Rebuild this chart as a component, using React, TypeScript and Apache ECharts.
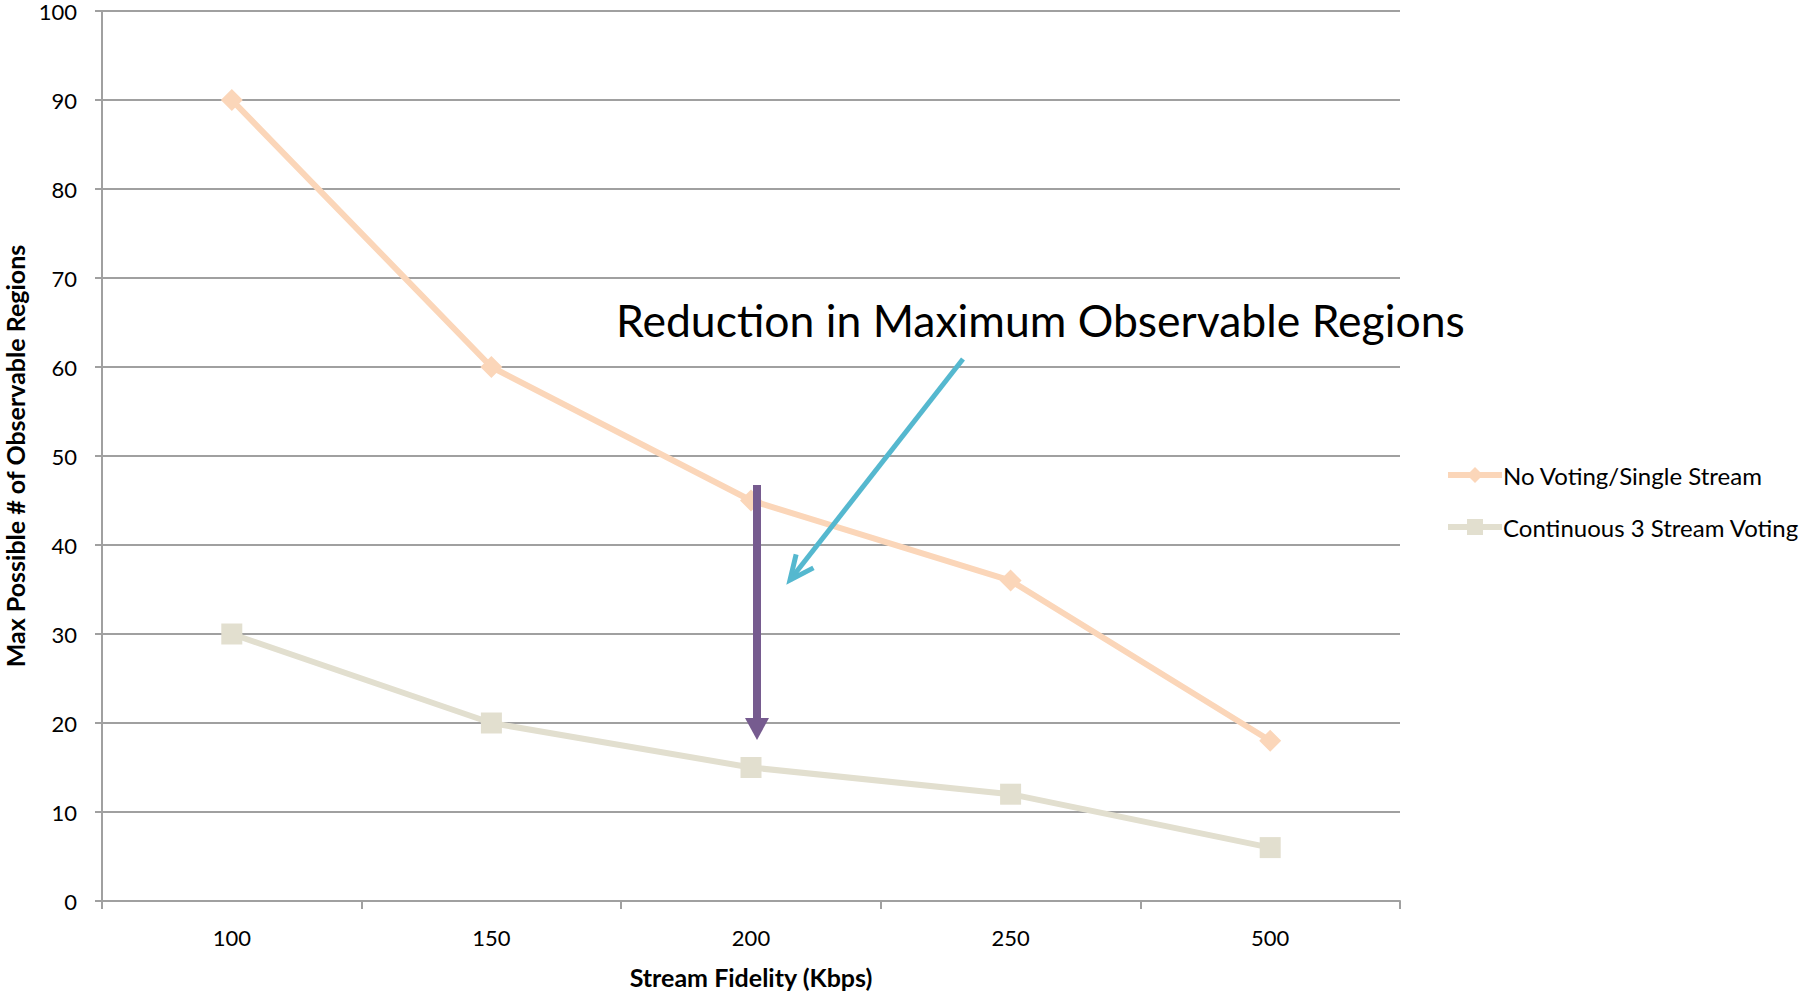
import React, { useEffect, useRef } from "react";
import * as echarts from "echarts";

const categories = ["100", "150", "200", "250", "500"];
const noVoting = [90, 60, 45, 36, 18];
const continuous3 = [30, 20, 15, 12, 6];
const seriesNames = ["No Voting/Single Stream", "Continuous 3 Stream Voting"];
const annotationText = "Reduction in Maximum Observable Regions";
const yAxisName = "Max Possible # of Observable Regions";
const xAxisName = "Stream Fidelity (Kbps)";

const FONT = "Lato, 'Open Sans', sans-serif";

function chevron(x1: number, y1: number, x2: number, y2: number, len: number, half: number) {
  const dx = x2 - x1, dy = y2 - y1;
  const L = Math.hypot(dx, dy);
  const ux = dx / L, uy = dy / L;
  const px = -uy, py = ux;
  const bx = x2 - ux * len, by = y2 - uy * len;
  return [
    [bx + px * half, by + py * half],
    [x2, y2],
    [bx - px * half, by - py * half],
  ];
}

export default function App() {
  const ref = useRef<HTMLDivElement>(null);
  useEffect(() => {
    document.body.style.margin = "0";
    const chart = echarts.init(ref.current!, null, { renderer: "svg" });
    const blueStart = [963, 359];
    const blueEnd = [790, 580];
    const purpleX = 757;
    const purpleTop = 485;
    const purpleTip = 740;
    chart.setOption({
      animation: false,
      backgroundColor: "#ffffff",
      textStyle: { fontFamily: FONT },
      grid: { left: 102, right: 412, top: 11, bottom: 91, containLabel: false, outerBoundsMode: "none" },
      legend: {
        orient: "vertical",
        left: 1440,
        top: 458,
        itemWidth: 54,
        itemHeight: 20,
        itemGap: 28,
        lineStyle: { width: 6 },
        textStyle: { fontFamily: FONT, fontSize: 24, color: "#000", padding: [0, 0, 0, -4] },
        data: seriesNames,
      },
      xAxis: {
        type: "category",
        data: categories,
        boundaryGap: true,
        name: xAxisName,
        nameLocation: "middle",
        nameGap: 63,
        nameTextStyle: { fontFamily: FONT, fontSize: 25, fontWeight: "bold", color: "#000" },
        axisLine: { lineStyle: { color: "#a0a0a0", width: 2 } },
        axisTick: { show: true, length: 8, lineStyle: { color: "#a0a0a0", width: 2 } },
        axisLabel: { fontFamily: FONT, fontSize: 22, color: "#000", margin: 25 },
      },
      yAxis: {
        type: "value",
        min: 0,
        max: 100,
        interval: 10,
        name: yAxisName,
        nameLocation: "middle",
        nameGap: 75,
        nameTextStyle: { fontFamily: FONT, fontSize: 25, fontWeight: "bold", color: "#000" },
        axisLine: { show: true, lineStyle: { color: "#a0a0a0", width: 2 } },
        axisTick: { show: true, length: 7, lineStyle: { color: "#a0a0a0", width: 2 } },
        splitLine: { lineStyle: { color: "#a0a0a0", width: 2 } },
        axisLabel: { fontFamily: FONT, fontSize: 22, lineHeight: 18, color: "#000", margin: 25 },
      },
      series: [
        {
          name: seriesNames[0],
          type: "line",
          data: noVoting,
          symbol: "diamond",
          symbolSize: 22,
          lineStyle: { color: "#fbd6b9", width: 6 },
          itemStyle: { color: "#fbd6b9" },
          z: 3,
        },
        {
          name: seriesNames[1],
          type: "line",
          data: continuous3,
          symbol: "rect",
          symbolSize: 21,
          lineStyle: { color: "#e2dfcf", width: 6 },
          itemStyle: { color: "#e2dfcf" },
          z: 3,
        },
      ],
      graphic: [
        {
          type: "text",
          left: 616,
          top: 297,
          z: 10,
          style: { text: annotationText, fontFamily: FONT, fontSize: 44.5, fill: "#000" },
        },
        {
          type: "line",
          z: 10,
          shape: { x1: blueStart[0], y1: blueStart[1], x2: blueEnd[0], y2: blueEnd[1] },
          style: { stroke: "#55b8cf", lineWidth: 5 },
        },
        {
          type: "polyline",
          z: 10,
          shape: { points: chevron(blueStart[0], blueStart[1], blueEnd[0], blueEnd[1], 24, 11) },
          style: { stroke: "#55b8cf", lineWidth: 5, fill: null, lineJoin: "miter" },
        },
        {
          type: "line",
          z: 10,
          shape: { x1: purpleX, y1: purpleTop, x2: purpleX, y2: purpleTip - 20 },
          style: { stroke: "#765b8f", lineWidth: 8 },
        },
        {
          type: "polygon",
          z: 10,
          shape: { points: [[purpleX - 12, purpleTip - 22], [purpleX + 12, purpleTip - 22], [purpleX, purpleTip]] },
          style: { fill: "#765b8f" },
        },
      ],
    });
    return () => chart.dispose();
  }, []);
  return <div ref={ref} style={{ width: 1812, height: 992 }} />;
}
